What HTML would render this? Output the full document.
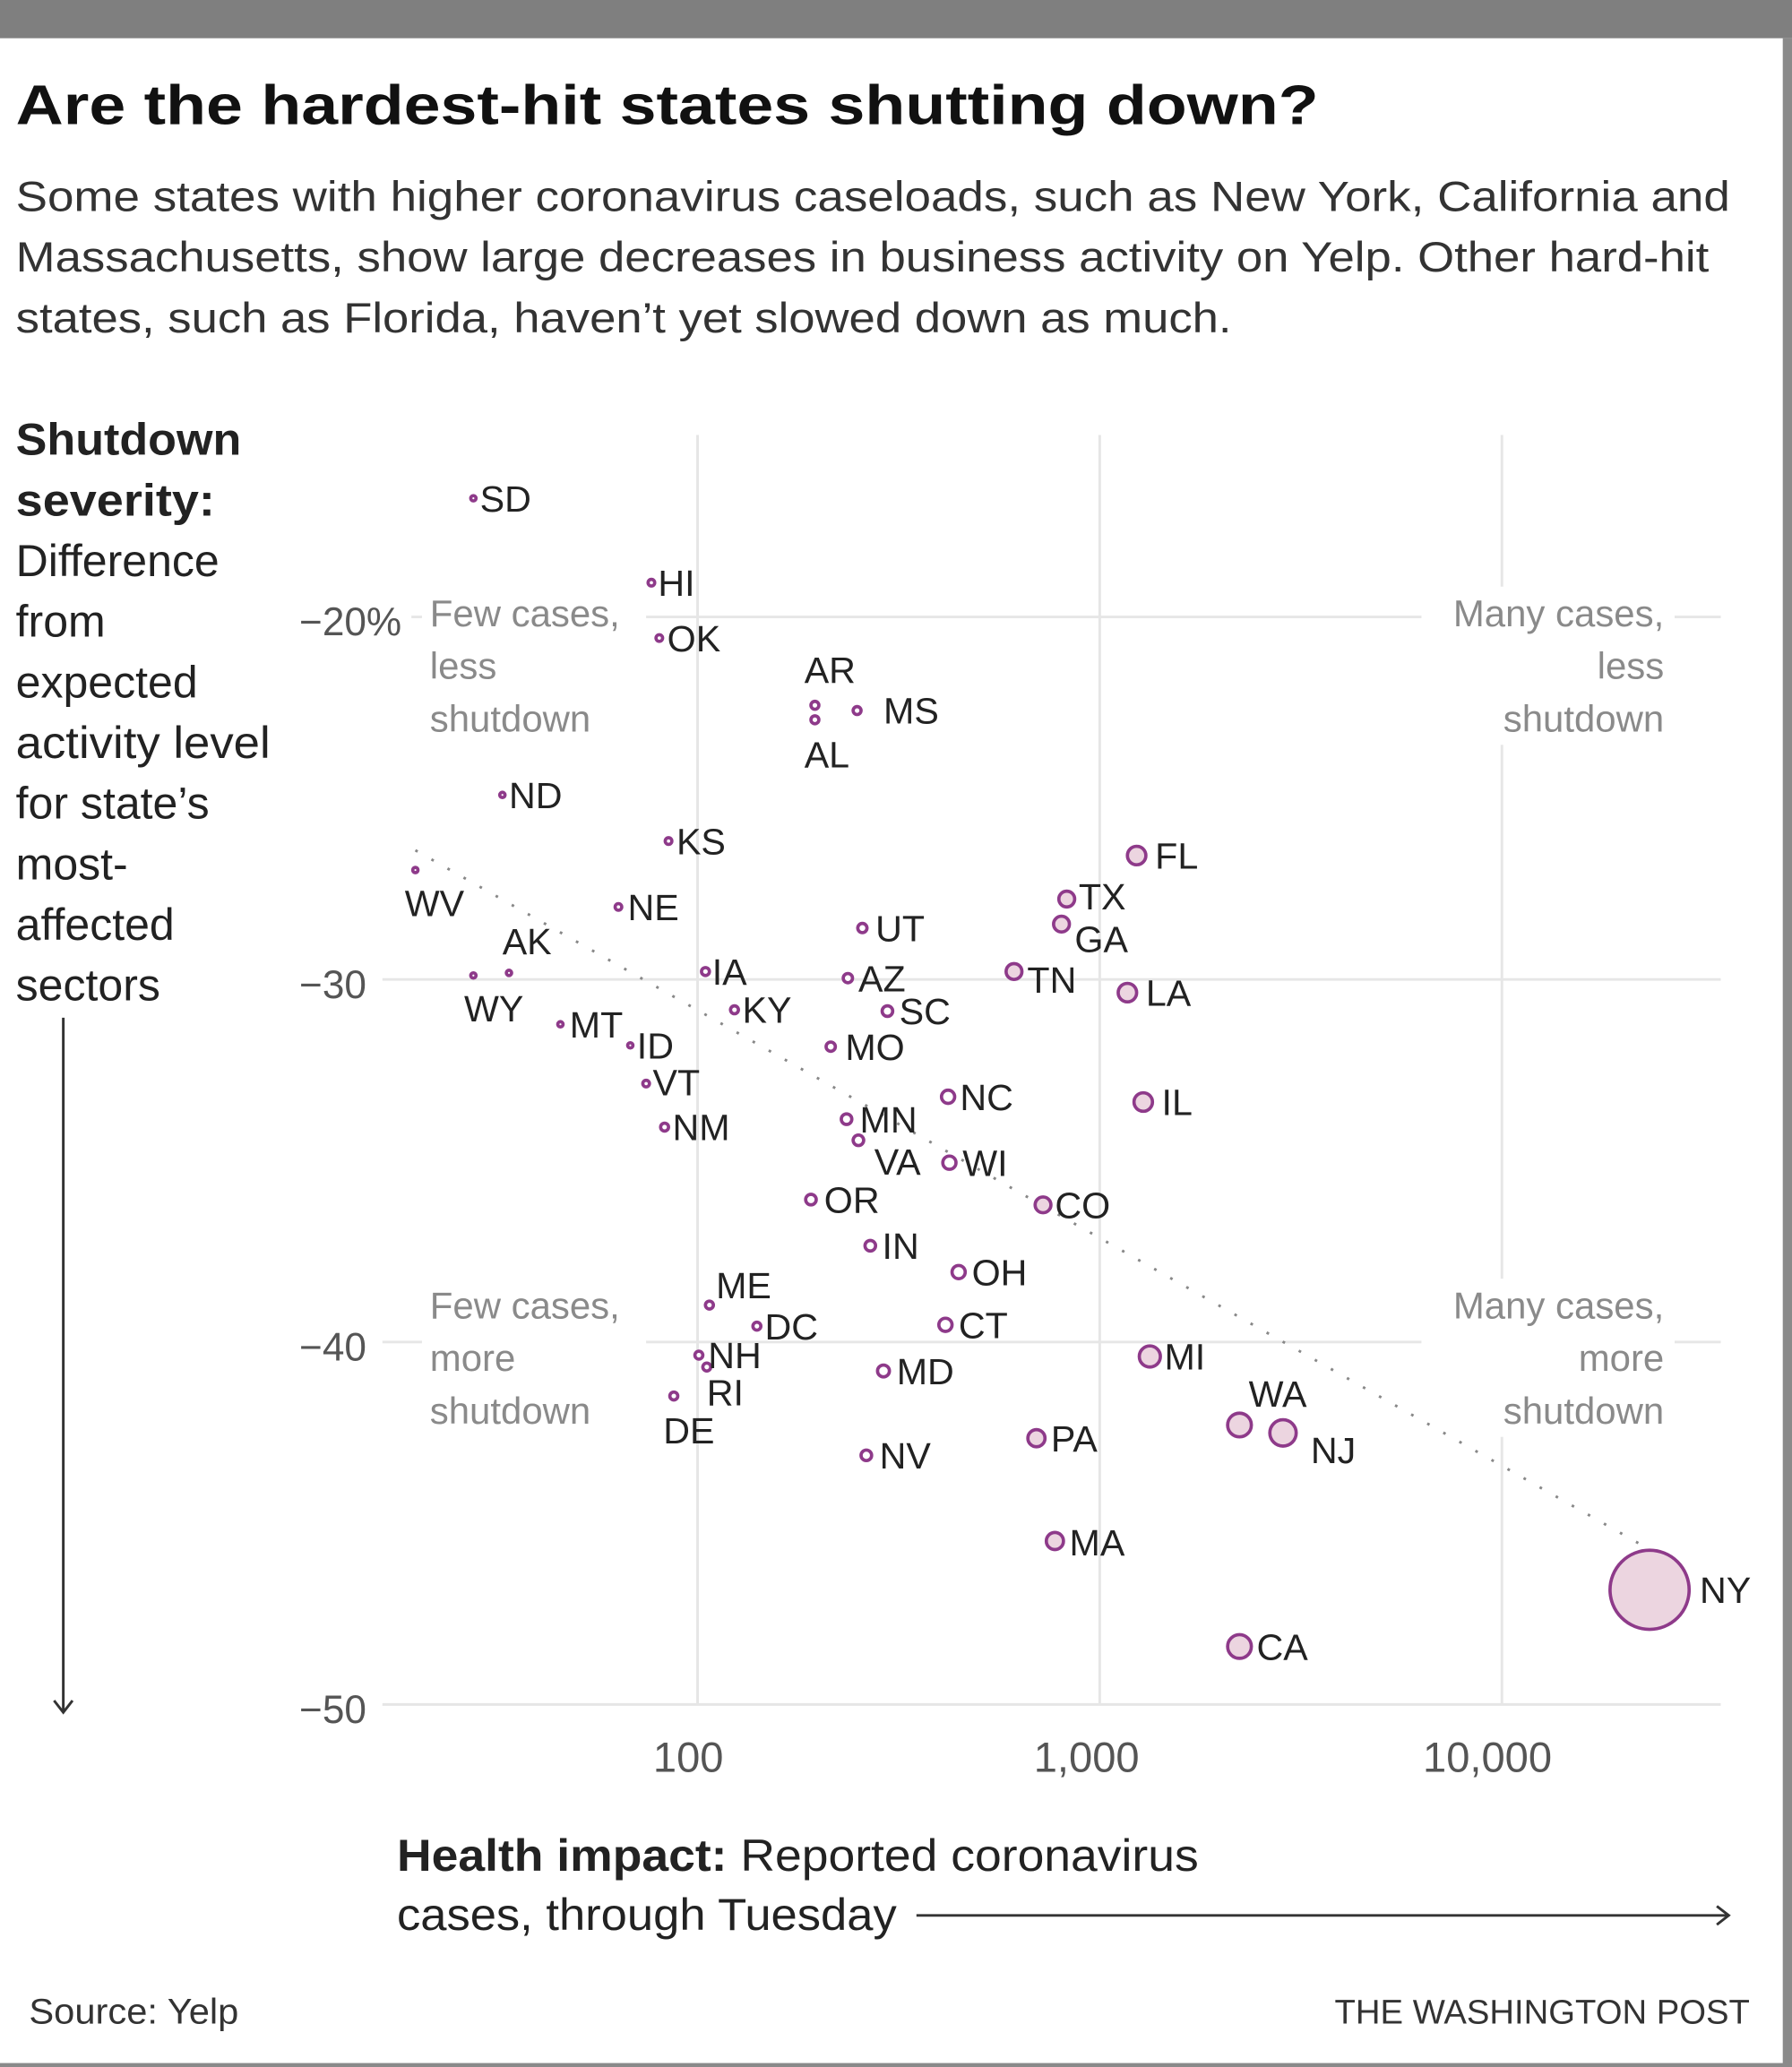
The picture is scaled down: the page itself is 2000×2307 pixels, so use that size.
<!DOCTYPE html>
<html><head><meta charset="utf-8"><style>
html,body{margin:0;padding:0;background:#fff}
svg{display:block}
text{font-family:"Liberation Sans",sans-serif}
.lb{font-size:28px;fill:#222}
.q{font-size:28.5px;fill:#8a8a8a}
.t{fill:#555}
.l{font-size:34px;fill:#222}
</style></head><body>
<svg width="2000" height="2307" viewBox="0 0 1359 1568" preserveAspectRatio="none">
<rect x="0" y="0" width="1359" height="1568" fill="#fff"/>
<rect x="0" y="0" width="1359" height="29" fill="#7f7f7f"/>
<rect x="1352" y="29" width="7" height="1539" fill="#8a8a8a"/>
<rect x="0" y="1565" width="1359" height="3" fill="#8a8a8a"/>

<text x="12" y="94" font-size="42" font-weight="bold" fill="#111" textLength="988" lengthAdjust="spacingAndGlyphs">Are the hardest-hit states shutting down?</text>
<text x="12" y="160" font-size="32" fill="#333" textLength="1300" lengthAdjust="spacingAndGlyphs">Some states with higher coronavirus caseloads, such as New York,  California and</text>
<text x="12" y="206" font-size="32" fill="#333" textLength="1284" lengthAdjust="spacingAndGlyphs">Massachusetts, show large decreases in business activity on Yelp. Other hard-hit</text>
<text x="12" y="252" font-size="32" fill="#333" textLength="922" lengthAdjust="spacingAndGlyphs">states, such as Florida, haven’t yet slowed down as much.</text>

<g class="l">
<text x="12" y="345" font-weight="bold" textLength="171" lengthAdjust="spacingAndGlyphs">Shutdown</text>
<text x="12" y="391" font-weight="bold" textLength="151" lengthAdjust="spacingAndGlyphs">severity:</text>
<text x="12" y="437">Difference</text>
<text x="12" y="483">from</text>
<text x="12" y="529">expected</text>
<text x="12" y="575" textLength="193" lengthAdjust="spacingAndGlyphs">activity level</text>
<text x="12" y="621">for state’s</text>
<text x="12" y="667">most-</text>
<text x="12" y="713">affected</text>
<text x="12" y="759">sectors</text>
</g>
<line x1="48" y1="772" x2="48" y2="1298" stroke="#333" stroke-width="2"/>
<polyline points="41,1290 48,1299 55,1290" fill="none" stroke="#333" stroke-width="2"/>

<g stroke="#e6e6e6" stroke-width="2">
<line x1="312" y1="468" x2="1305" y2="468"/>
<line x1="290" y1="743" x2="1305" y2="743"/>
<line x1="290" y1="1018" x2="1305" y2="1018"/>
<line x1="290" y1="1293" x2="1305" y2="1293"/>
<line x1="529" y1="330" x2="529" y2="1293"/>
<line x1="834" y1="330" x2="834" y2="1293"/>
<line x1="1139" y1="330" x2="1139" y2="1293"/>
</g>
<g fill="#fff">
<rect x="320" y="445" width="170" height="120"/>
<rect x="1078" y="445" width="192" height="120"/>
<rect x="320" y="970" width="170" height="120"/>
<rect x="1078" y="970" width="192" height="120"/>
</g>
<g class="q">
<text x="326" y="475">Few cases,</text><text x="326" y="515">less</text><text x="326" y="555">shutdown</text>
<text x="326" y="1000">Few cases,</text><text x="326" y="1040">more</text><text x="326" y="1080">shutdown</text>
<g text-anchor="end">
<text x="1262" y="475">Many cases,</text><text x="1262" y="515">less</text><text x="1262" y="555">shutdown</text>
<text x="1262" y="1000">Many cases,</text><text x="1262" y="1040">more</text><text x="1262" y="1080">shutdown</text>
</g></g>

<g class="t" font-size="30">
<text x="227" y="482">−20%</text><text x="227" y="757">−30</text><text x="227" y="1032">−40</text><text x="227" y="1307">−50</text>
</g>
<g class="t" font-size="32" text-anchor="middle"><text x="522" y="1344">100</text><text x="824" y="1344">1,000</text><text x="1128" y="1344">10,000</text></g>

<line x1="315" y1="645" x2="1245" y2="1172" stroke="#888" stroke-width="2" stroke-dasharray="2,12"/>

<g stroke="#8e3a8a" stroke-width="2.5" fill="#fff">
<circle cx="359" cy="378" r="2"/><circle cx="494" cy="442" r="2.5"/><circle cx="500" cy="484" r="2.5"/>
<circle cx="618" cy="535" r="3"/><circle cx="618" cy="546" r="3"/><circle cx="650" cy="539" r="3"/>
<circle cx="381" cy="603" r="2"/><circle cx="507" cy="638" r="2.5"/><circle cx="315" cy="660" r="2"/>
<circle cx="469" cy="688" r="2.5"/><circle cx="654" cy="704" r="3.5"/><circle cx="386" cy="738" r="2"/>
<circle cx="359" cy="740" r="2"/><circle cx="535" cy="737" r="3"/><circle cx="643" cy="742" r="3.5"/>
<circle cx="557" cy="766" r="3"/><circle cx="673" cy="767" r="4"/><circle cx="425" cy="777" r="2"/>
<circle cx="478" cy="793" r="2"/><circle cx="630" cy="794" r="3.5"/><circle cx="490" cy="822" r="2.5"/>
<circle cx="719" cy="832" r="5"/><circle cx="504" cy="855" r="3"/><circle cx="642" cy="849" r="4"/>
<circle cx="651" cy="865" r="4"/><circle cx="720" cy="882" r="5"/><circle cx="615" cy="910" r="4"/>
<circle cx="660" cy="945" r="4"/><circle cx="727" cy="965" r="5"/><circle cx="538" cy="990" r="3"/>
<circle cx="574" cy="1006" r="3"/><circle cx="717" cy="1005" r="5"/><circle cx="530" cy="1028" r="3"/>
<circle cx="536" cy="1037" r="3"/><circle cx="511" cy="1059" r="3"/><circle cx="670" cy="1040" r="4.5"/>
<circle cx="657" cy="1104" r="4"/>
</g>
<g stroke="#8e3a8a" stroke-width="2.5" fill="#ecd5e0">
<circle cx="809" cy="682" r="6"/><circle cx="805" cy="701" r="6"/><circle cx="862" cy="649" r="7"/>
<circle cx="769" cy="737" r="6"/><circle cx="855" cy="753" r="7"/><circle cx="867" cy="836" r="7"/>
<circle cx="791" cy="914" r="6"/><circle cx="872" cy="1029" r="8"/><circle cx="940" cy="1081" r="9"/>
<circle cx="973" cy="1087" r="10"/><circle cx="786" cy="1091" r="6.5"/><circle cx="800" cy="1169" r="6.5"/>
<circle cx="940" cy="1249" r="9"/><circle cx="1251" cy="1206" r="30"/>
</g>

<g class="lb">
<text x="364" y="388">SD</text><text x="499" y="452">HI</text><text x="506" y="494">OK</text>
<text x="610" y="518">AR</text><text x="610" y="582">AL</text><text x="670" y="549">MS</text>
<text x="386" y="613">ND</text><text x="513" y="648">KS</text><text x="307" y="695">WV</text>
<text x="476" y="698">NE</text><text x="664" y="714">UT</text><text x="818" y="690">TX</text>
<text x="815" y="722">GA</text><text x="876" y="659">FL</text><text x="381" y="724">AK</text>
<text x="352" y="775">WY</text><text x="540" y="747">IA</text><text x="651" y="752">AZ</text>
<text x="779" y="753">TN</text><text x="869" y="763">LA</text><text x="563" y="776">KY</text>
<text x="682" y="777">SC</text><text x="432" y="787">MT</text><text x="483" y="803">ID</text>
<text x="641" y="804">MO</text><text x="495" y="831">VT</text><text x="728" y="842">NC</text>
<text x="881" y="846">IL</text><text x="510" y="865">NM</text><text x="652" y="859">MN</text>
<text x="663" y="891">VA</text><text x="730" y="892">WI</text><text x="800" y="924">CO</text>
<text x="625" y="920">OR</text><text x="669" y="955">IN</text><text x="737" y="975">OH</text>
<text x="543" y="985">ME</text><text x="580" y="1016">DC</text><text x="727" y="1015">CT</text>
<text x="537" y="1038">NH</text><text x="536" y="1066">RI</text><text x="503" y="1095">DE</text>
<text x="680" y="1050">MD</text><text x="883" y="1039">MI</text><text x="947" y="1067">WA</text>
<text x="994" y="1110">NJ</text><text x="797" y="1101">PA</text><text x="667" y="1114">NV</text>
<text x="811" y="1180">MA</text><text x="953" y="1259">CA</text><text x="1289" y="1216">NY</text>
</g>

<text x="301" y="1419" font-size="34" fill="#222" textLength="608" lengthAdjust="spacingAndGlyphs"><tspan font-weight="bold">Health impact:</tspan> Reported coronavirus</text>
<text x="301" y="1464" font-size="34" fill="#222" textLength="379" lengthAdjust="spacingAndGlyphs">cases, through Tuesday</text>
<line x1="695" y1="1453" x2="1311" y2="1453" stroke="#333" stroke-width="2"/>
<polyline points="1302,1446 1311,1453 1302,1460" fill="none" stroke="#333" stroke-width="2"/>

<text x="22" y="1535" font-size="27" fill="#333" textLength="159" lengthAdjust="spacingAndGlyphs">Source: Yelp</text>
<text x="1327" y="1535" font-size="26" fill="#333" text-anchor="end">THE WASHINGTON POST</text>
</svg>
</body></html>
